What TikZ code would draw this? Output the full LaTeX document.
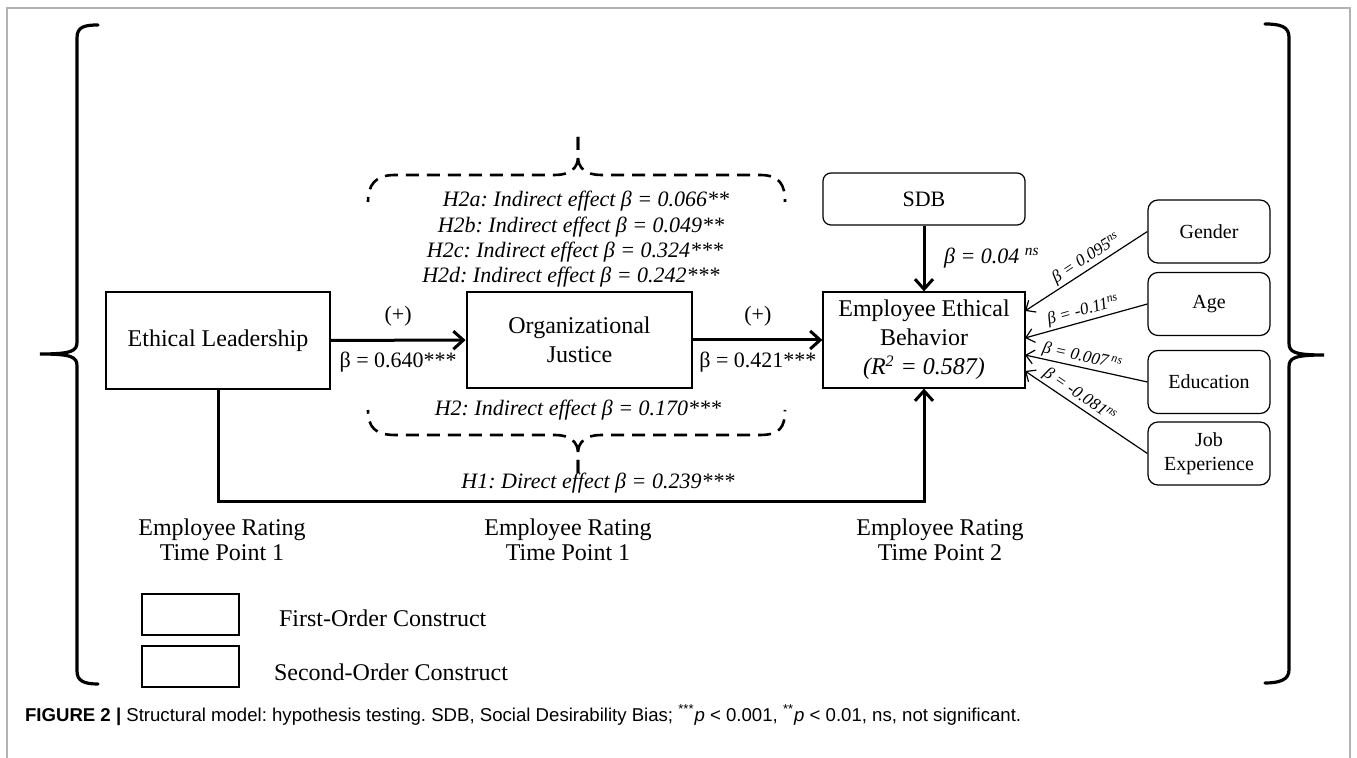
\documentclass[tikz,border=0pt]{standalone}
\usepackage{fontspec}
\setmainfont{Liberation Serif}
\newfontfamily\capfont{Liberation Sans}
\usetikzlibrary{arrows.meta}
\frenchspacing
\begin{document}
\begin{tikzpicture}[x=0.5pt,y=-0.5pt,
  firstbox/.style={draw, line width=0.6pt, inner sep=0pt, align=center, font=\fontsize{12}{14.5}\selectfont},
  secondbox/.style={firstbox, line width=1.4pt},
  ctrlbox/.style={draw, line width=0.6pt, rounded corners=5pt, inner sep=0pt, align=center, minimum width=61pt, minimum height=31.5pt, font=\fontsize{10}{12}\selectfont},
  mainarrow/.style={line width=1.5pt, -{Straight Barb[length=5pt,width=9pt]}},
  ctrlarrow/.style={line width=0.6pt, -{Straight Barb[length=4pt,width=7pt]}},
  hyp/.style={font=\fontsize{11}{13}\selectfont\itshape},
  coef/.style={font=\fontsize{11}{13}\selectfont},
  ctrlcoef/.style={font=\fontsize{8.5}{10}\selectfont\itshape, sloped, above, inner sep=1pt},
  rating/.style={align=center, font=\fontsize{12}{12.5}\selectfont},
  legend/.style={anchor=west, font=\fontsize{12}{14}\selectfont},
  brace/.style={line width=1.6pt, line cap=round},
  dashbrace/.style={line width=1.3pt, dash pattern=on 6.5pt off 4pt}
]
\useasboundingbox (0,0) rectangle (1357,758);
\draw[gray!60, line width=0.8pt] (7,758) -- (7,8) -- (1350,8) -- (1350,758);
\draw[brace] (98,25) .. controls (84,25) and (77,27) .. (77,38) -- (77,342) .. controls (77,351) and (72,354) .. (40,354)
  .. controls (72,354) and (77,357) .. (77,366) -- (77,671) .. controls (77,681) and (84,684) .. (98,684);
\draw[brace] (1265,24) .. controls (1279,24) and (1289,26) .. (1289,37) -- (1289,343) .. controls (1289,352) and (1294,355) .. (1324,355)
  .. controls (1294,355) and (1289,358) .. (1289,367) -- (1289,670) .. controls (1289,680) and (1279,683) .. (1265,683);
\node[firstbox, minimum width=112pt, minimum height=48.5pt] (EL) at (218,340.5) {Ethical Leadership};
\node[secondbox, minimum width=112.5pt, minimum height=48pt] (OJ) at (579.5,340) {Organizational\\Justice};
\node[firstbox, minimum width=101pt, minimum height=48pt] (EEB) at (924,340) {Employee Ethical\\Behavior\\\textit{(R\textsuperscript{2} = 0.587)}};
\node[firstbox, rounded corners=4pt, minimum width=101pt, minimum height=26pt, font=\fontsize{11}{13}\selectfont] (SDB) at (924,199) {SDB};
\node[ctrlbox] (gender) at (1209,231.5) {Gender};
\node[ctrlbox] (age) at (1209,304) {Age};
\node[ctrlbox] (edu) at (1209,382) {Education};
\node[ctrlbox] (job) at (1209,453.5) {Job\\Experience};
\coordinate (inG) at (1025,311);
\coordinate (inA) at (1025,338);
\coordinate (inE) at (1025,355);
\coordinate (inJ) at (1025,371);
\coordinate (low) at (580,502);
\draw[mainarrow] (EL) -- node[coef, above=3pt] (p1) {(+)} node[coef, below=2pt] (b1) {β = 0.640***} (OJ);
\draw[mainarrow] (OJ.east) -- node[coef, above=3pt] (p2) {(+)} node[coef, below=2pt] (b2) {β = 0.421***} (OJ.east -| EEB.west);
\draw[mainarrow] (SDB) -- node[hyp, right=6pt] (bsdb) {β = 0.04 \textsuperscript{ns}} (EEB);
\draw[mainarrow] (EL.south) |- (low) -| (EEB.south);
\draw[ctrlarrow] (gender.west) -- node[ctrlcoef, pos=0.45] (bg) {β = 0.095\textsuperscript{ns}} (inG);
\draw[ctrlarrow] (age.west) -- node[ctrlcoef, pos=0.5] (ba) {β = -0.11\textsuperscript{ns}} (inA);
\draw[ctrlarrow] (edu.west) -- node[ctrlcoef, pos=0.55] (be) {β = 0.007\textsuperscript{ ns}} (inE);
\draw[ctrlarrow] (job.west) -- node[ctrlcoef, pos=0.6] (bj) {β = -0.081\textsuperscript{ns}} (inJ);
\draw[dashbrace] (578,137) -- (578,157) .. controls (578,168) and (570,175) .. (555,175) -- (395,175) .. controls (375,175) and (368,185) .. (368,202);
\draw[dashbrace] (578,137) -- (578,157) .. controls (578,168) and (586,175) .. (601,175) -- (760,175) .. controls (780,175) and (785,185) .. (785,202);
\draw[dashbrace] (578,473) -- (578,453) .. controls (578,442) and (570,435) .. (555,435) -- (395,435) .. controls (375,435) and (368,427) .. (368,410);
\draw[dashbrace] (578,473) -- (578,453) .. controls (578,442) and (586,435) .. (601,435) -- (760,435) .. controls (780,435) and (785,427) .. (785,410);
\node[hyp] (h2a) at (586,201) {H2a: Indirect effect β = 0.066**};
\node[hyp] (h2b) at (581,227) {H2b: Indirect effect β = 0.049**};
\node[hyp] (h2c) at (575,252) {H2c: Indirect effect β = 0.324***};
\node[hyp] (h2d) at (571,277) {H2d: Indirect effect β = 0.242***};
\node[hyp] (h2) at (578,410) {H2: Indirect effect β = 0.170***};
\node[hyp] (h1) at (598,483) {H1: Direct effect β = 0.239***};
\node[rating] (t1) at (222,540) {Employee Rating\\Time Point 1};
\node[rating] (t1b) at (568,540) {Employee Rating\\Time Point 1};
\node[rating] (t2) at (940,540) {Employee Rating\\Time Point 2};
\node[draw, line width=0.6pt, minimum width=48.5pt, minimum height=20.5pt] (lg1) at (190.5,614.5) {};
\node[draw, line width=1.4pt, minimum width=48.5pt, minimum height=20.5pt] (lg2) at (190.5,666.5) {};
\node[legend] (lt1) at (272,618) {First-Order Construct};
\node[legend] (lt2) at (267,672) {Second-Order Construct};
\node[anchor=west, font=\capfont\fontsize{9.3}{11}\selectfont] (cap) at (18,715) {\textbf{FIGURE 2 |} Structural model: hypothesis testing. SDB, Social Desirability Bias; \textsuperscript{***}\textit{p} < 0.001, \textsuperscript{**}\textit{p} < 0.01, ns, not significant.};
\end{tikzpicture}
\end{document}
